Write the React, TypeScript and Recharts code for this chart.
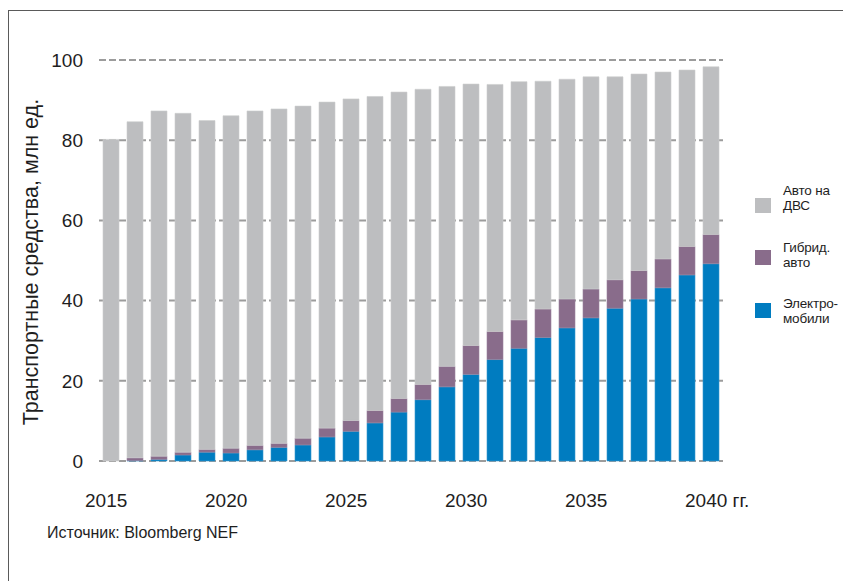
import { Bar, BarChart, CartesianGrid, XAxis, YAxis } from "recharts";

// Парк транспортных средств по типу двигателя, млн ед.
const years = [
  2015, 2016, 2017, 2018, 2019, 2020, 2021, 2022, 2023, 2024, 2025, 2026, 2027,
  2028, 2029, 2030, 2031, 2032, 2033, 2034, 2035, 2036, 2037, 2038, 2039, 2040,
];
const electric = [
  0, 0.1, 0.4, 1.5, 2.2, 2.0, 2.8, 3.4, 4.0, 6.0, 7.4, 9.5, 12.2, 15.3, 18.5,
  21.6, 25.3, 28.1, 30.8, 33.2, 35.7, 38.1, 40.4, 43.2, 46.4, 49.2,
];
const hybrid = [
  0, 0.7, 0.8, 0.7, 0.7, 1.2, 1.1, 1.0, 1.7, 2.2, 2.7, 3.1, 3.4, 3.8, 5.1, 7.2,
  7.0, 7.1, 7.1, 7.2, 7.2, 7.1, 7.1, 7.2, 7.1, 7.3,
];
const combustion = [
  80.2, 83.8, 86.1, 84.5, 82.0, 82.9, 83.4, 83.4, 82.8, 81.3, 80.2, 78.3, 76.4,
  73.6, 69.8, 65.2, 61.6, 59.4, 56.8, 54.8, 52.9, 50.6, 49.0, 46.6, 44.0, 41.8,
];
const yTicks = [0, 20, 40, 60, 80, 100];
const labelledYears = [2015, 2020, 2025, 2030, 2035, 2040];

const legendItems = [
  { lines: ["Авто на", "ДВС"], color: "#bdbec0", top: 198, baseline: 195 },
  { lines: ["Гибрид.", "авто"], color: "#896c8b", top: 250, baseline: 252 },
  { lines: ["Электро-", "мобили"], color: "#007cc0", top: 303, baseline: 308 },
];

const data = years.map((year, i) => ({
  year,
  ev: electric[i],
  hybrid: hybrid[i],
  ice: combustion[i],
}));

const FONT = "'Liberation Sans', Arial, sans-serif";
const TEXT = "#1e1e1e";

function YearTick({ x, payload }: any) {
  const year = Number(payload.value);
  if (!labelledYears.includes(year)) return null;
  const last = year === years[years.length - 1];
  return (
    <text x={x - 26} y={507} fill={TEXT} fontSize={19} fontFamily={FONT}>
      {last ? `${year} гг.` : year}
    </text>
  );
}

function AxisTitle() {
  return (
    <text
      x={31}
      y={262}
      transform="rotate(-90 31 262)"
      textAnchor="middle"
      dominantBaseline="central"
      fill={TEXT}
      fontSize={21.5}
      fontFamily={FONT}
    >
      Транспортные средства, млн ед.
    </text>
  );
}

export default function App() {
  return (
    <div style={{ position: "relative", width: 843, height: 581, overflow: "hidden", background: "#fff" }}>
      <style>{"html, body { margin: 0; padding: 0; overflow: hidden; }"}</style>
      <BarChart
        width={843}
        height={581}
        data={data}
        barSize={16}
        margin={{ top: 60, right: 120, left: 0, bottom: 80 }}
      >
        {/* рамка: только верхняя и левая стороны */}
        <line x1={8} y1={10.5} x2={843} y2={10.5} stroke="#5a5a5a" strokeWidth={1} />
        <line x1={8.5} y1={10} x2={8.5} y2={581} stroke="#5a5a5a" strokeWidth={1} />

        <CartesianGrid
          vertical={false}
          stroke="#9c9c9c"
          strokeWidth={2}
          strokeDasharray="7 3"
        />
        <XAxis
          dataKey="year"
          interval={0}
          axisLine={false}
          tickLine={false}
          height={40}
          tick={<YearTick />}
        />
        <YAxis
          width={99}
          domain={[0, 100]}
          ticks={yTicks}
          axisLine={false}
          tickLine={false}
          tickSize={0}
          tickMargin={16}
          tick={{ fill: TEXT, fontSize: 19, fontFamily: FONT }}
          label={() => <AxisTitle />}
        />
        <Bar dataKey="ev" stackId="a" fill="#007cc0" stroke="#3597cf" strokeWidth={0.6} isAnimationActive={false} />
        <Bar dataKey="hybrid" stackId="a" fill="#896c8b" stroke="#9c84a0" strokeWidth={0.6} isAnimationActive={false} />
        <Bar dataKey="ice" stackId="a" fill="#bdbec0" stroke="#cdcecf" strokeWidth={0.6} isAnimationActive={false} />

        {legendItems.map((item) => (
          <g key={item.color}>
            <rect x={755} y={item.top} width={16} height={15} fill={item.color} />
            {item.lines.map((line, j) => (
              <text
                key={line}
                x={783}
                y={item.baseline + j * 15}
                fill={TEXT}
                fontSize={13.5}
                letterSpacing={-0.2}
                fontFamily={FONT}
              >
                {line}
              </text>
            ))}
          </g>
        ))}

        <text x={47} y={538} fill={TEXT} fontSize={16} fontFamily={FONT}>
          Источник: Bloomberg NEF
        </text>
      </BarChart>
    </div>
  );
}
